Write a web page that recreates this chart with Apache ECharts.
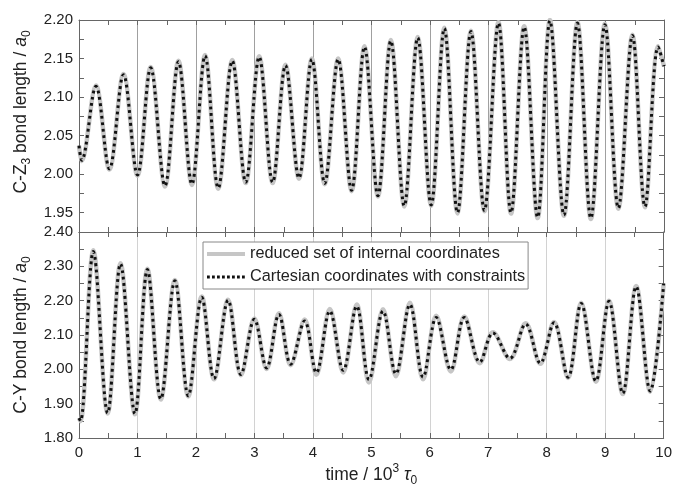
<!DOCTYPE html>
<html>
<head>
<meta charset="utf-8">
<script src="https://cdn.jsdelivr.net/npm/echarts@6/dist/echarts.min.js"></script>
<style>
html,body{margin:0;padding:0;background:#fff;}
#chart{width:675px;height:488px;}
</style>
</head>
<body>
<div id="chart"></div>
<script>
// ---- data (extrema of the oscillations) ----
const timeCZ3 = [0, 0.046, 0.29, 0.52, 0.76, 1.0, 1.225, 1.47, 1.70, 1.93, 2.155, 2.38, 2.62, 2.85, 3.08, 3.31, 3.53, 3.76, 3.98, 4.20, 4.43, 4.66, 4.88, 5.11, 5.33, 5.56, 5.79, 6.02, 6.245, 6.47, 6.70, 6.93, 7.17, 7.385, 7.61, 7.84, 8.05, 8.29, 8.52, 8.75, 8.99, 9.22, 9.46, 9.675, 9.90, 10];
const cz3Cartesian = [2.037, 2.018, 2.114, 2.007, 2.129, 1.999, 2.138, 1.985, 2.146, 1.987, 2.1535, 1.982, 2.147, 1.9895, 2.152, 1.9895, 2.141, 1.995, 2.149, 1.988, 2.149, 1.979, 2.165, 1.972, 2.173, 1.959, 2.177, 1.960, 2.189, 1.950, 2.185, 1.953, 2.196, 1.950, 2.191, 1.944, 2.199, 1.947, 2.196, 1.943, 2.194, 1.956, 2.180, 1.958, 2.165, 2.140];
const cz3Reduced   = [2.037, 2.017, 2.115, 2.006, 2.130, 1.998, 2.139, 1.984, 2.147, 1.986, 2.1545, 1.981, 2.148, 1.9885, 2.153, 1.9885, 2.142, 1.994, 2.150, 1.987, 2.150, 1.978, 2.166, 1.971, 2.174, 1.958, 2.178, 1.959, 2.190, 1.949, 2.186, 1.952, 2.197, 1.949, 2.192, 1.943, 2.200, 1.946, 2.197, 1.942, 2.195, 1.955, 2.181, 1.957, 2.166, 2.140];

const timeCY = [0, 0.025, 0.245, 0.49, 0.71, 0.957, 1.17, 1.40, 1.64, 1.87, 2.10, 2.31, 2.55, 2.77, 3.00, 3.21, 3.42, 3.62, 3.86, 4.06, 4.29, 4.52, 4.75, 4.96, 5.20, 5.42, 5.66, 5.885, 6.11, 6.36, 6.59, 6.855, 7.08, 7.37, 7.64, 7.89, 8.125, 8.365, 8.59, 8.84, 9.065, 9.30, 9.53, 9.77, 10];
const cyCartesian = [1.858, 1.850, 2.343, 1.873, 2.307, 1.871, 2.291, 1.914, 2.258, 1.923, 2.210, 1.973, 2.201, 1.985, 2.146, 2.004, 2.160, 2.015, 2.141, 1.990, 2.170, 1.997, 2.184, 1.970, 2.170, 1.987, 2.189, 1.977, 2.151, 1.999, 2.151, 2.021, 2.106, 2.032, 2.132, 2.018, 2.136, 1.977, 2.192, 1.966, 2.198, 1.930, 2.241, 1.937, 2.250];
const cyReduced   = [1.858, 1.849, 2.347, 1.871, 2.309, 1.869, 2.293, 1.912, 2.260, 1.921, 2.212, 1.971, 2.203, 1.983, 2.148, 2.001, 2.163, 2.012, 2.145, 1.984, 2.176, 1.991, 2.189, 1.962, 2.175, 1.980, 2.194, 1.971, 2.156, 1.994, 2.154, 2.018, 2.108, 2.030, 2.134, 2.016, 2.138, 1.975, 2.194, 1.964, 2.200, 1.928, 2.243, 1.935, 2.250];

const seriesNames = ['reduced set of internal coordinates', 'Cartesian coordinates with constraints'];

// ---- build chart ----
const FONT = 'Liberation Sans, Arial, sans-serif';
const AXIS_COLOR = '#666';
const TEXT_COLOR = '#222';
const pairs = (t, v) => t.map((x, i) => [x, v[i]]);

function xAxisCfg(grid, pos, labels, gridColor) {
  return {
    type: 'value', gridIndex: grid, position: pos, min: 0, max: 10, interval: 1,
    axisLine: { show: true, onZero: false, lineStyle: { color: AXIS_COLOR, width: 1 } },
    axisTick: { show: true, inside: true, length: 5, lineStyle: { color: AXIS_COLOR } },
    minorTick: { show: true, splitNumber: 2, length: 5, lineStyle: { color: AXIS_COLOR } },
    axisLabel: { show: labels, margin: 7, fontSize: 15, color: TEXT_COLOR, fontFamily: FONT },
    splitLine: { show: !!gridColor, lineStyle: { color: gridColor || '#ccc', width: 1 } }
  };
}
function yAxisCfg(grid, pos, min, max, interval, labelStep, labels) {
  return {
    type: 'value', gridIndex: grid, position: pos, min: min, max: max, interval: interval,
    axisLine: { show: true, onZero: false, lineStyle: { color: AXIS_COLOR, width: 1 } },
    axisTick: { show: true, inside: true, length: 5, lineStyle: { color: AXIS_COLOR } },
    axisLabel: {
      show: labels, margin: 6, fontSize: 15, color: TEXT_COLOR, fontFamily: FONT,
      formatter: function (v) {
        const k = v / labelStep;
        return Math.abs(k - Math.round(k)) < 1e-4 ? v.toFixed(2) : '';
      }
    },
    splitLine: { show: false }
  };
}

const nameRich = {
  n: { fontSize: 17.5, lineHeight: 24, color: TEXT_COLOR, fontFamily: FONT },
  i: { fontSize: 17.5, lineHeight: 24, fontStyle: 'italic', color: TEXT_COLOR, fontFamily: FONT },
  s: { fontSize: 12, lineHeight: 12, verticalAlign: 'bottom', color: TEXT_COLOR, fontFamily: FONT },
  p: { fontSize: 12, lineHeight: 12, verticalAlign: 'top', color: TEXT_COLOR, fontFamily: FONT }
};

const yTop = yAxisCfg(0, 'left', 1.925, 2.2, 0.025, 0.05, true);
Object.assign(yTop, {
  name: '{n|C-Z}{s|3}{n| bond length / }{i|a}{s|0}', nameLocation: 'middle', nameGap: 40, nameRotate: 90,
  nameTextStyle: { rich: nameRich, padding: [0, 0, 0, 28] }
});
const yBot = yAxisCfg(1, 'left', 1.8, 2.4, 0.05, 0.1, true);
Object.assign(yBot, {
  name: '{n|C-Y bond length / }{i|a}{s|0}', nameLocation: 'middle', nameGap: 40, nameRotate: 90,
  nameTextStyle: { rich: nameRich }
});
const xBot = xAxisCfg(1, 'bottom', true, '#d2d2d2');
Object.assign(xBot, {
  name: '{n|time / 10}{p|3}{n| }{i|τ}{s|0}', nameLocation: 'middle', nameGap: 25,
  nameTextStyle: { rich: nameRich }
});

const grayLine = { color: '#c6c6c6', width: 4.5 };
const dotLine = { color: '#111', width: 3, type: [2.8, 3.6] };

const option = {
  animation: false,
  backgroundColor: '#fff',
  textStyle: { fontFamily: FONT },
  grid: [
    { left: 79, right: 11, top: 20, height: 212 },
    { left: 79, right: 11, top: 232, height: 211 }
  ],
  xAxis: [
    xAxisCfg(0, 'bottom', false, '#a0a0a0'),
    xAxisCfg(0, 'top', false, null),
    xBot,
    xAxisCfg(1, 'top', false, null)
  ],
  yAxis: [
    yTop,
    yAxisCfg(0, 'right', 1.925, 2.2, 0.025, 0.05, false),
    yBot,
    yAxisCfg(1, 'right', 1.8, 2.4, 0.05, 0.1, false)
  ],
  legend: {
    data: [
      { name: seriesNames[0], lineStyle: { width: 4, color: '#c6c6c6' } },
      { name: seriesNames[1], lineStyle: { width: 3, color: '#111', type: [2.8, 2.2] } }
    ],
    orient: 'vertical', left: 203, top: 242,
    itemWidth: 38, itemHeight: 14, itemGap: 7,
    padding: [4, 3, 4, 2],
    itemStyle: { opacity: 0, borderWidth: 0 },
    borderColor: '#888', borderWidth: 1, borderRadius: 0, backgroundColor: '#fff',
    textStyle: { fontSize: 16.3, color: TEXT_COLOR, fontFamily: FONT },
    selectedMode: false
  },
  series: [
    { name: seriesNames[0], type: 'line', xAxisIndex: 0, yAxisIndex: 0, data: pairs(timeCZ3, cz3Reduced),
      symbol: 'none', smooth: 0.36, lineStyle: grayLine, itemStyle: { color: grayLine.color }, z: 2 },
    { name: seriesNames[1], type: 'line', xAxisIndex: 0, yAxisIndex: 0, data: pairs(timeCZ3, cz3Cartesian),
      symbol: 'none', smooth: 0.36, lineStyle: dotLine, itemStyle: { color: dotLine.color }, z: 3 },
    { name: seriesNames[0], type: 'line', xAxisIndex: 2, yAxisIndex: 2, data: pairs(timeCY, cyReduced),
      symbol: 'none', smooth: 0.36, lineStyle: grayLine, itemStyle: { color: grayLine.color }, z: 2 },
    { name: seriesNames[1], type: 'line', xAxisIndex: 2, yAxisIndex: 2, data: pairs(timeCY, cyCartesian),
      symbol: 'none', smooth: 0.36, lineStyle: dotLine, itemStyle: { color: dotLine.color }, z: 3 }
  ]
};

const chart = echarts.init(document.getElementById('chart'), null, { renderer: 'canvas' });
chart.setOption(option);
</script>
</body>
</html>
